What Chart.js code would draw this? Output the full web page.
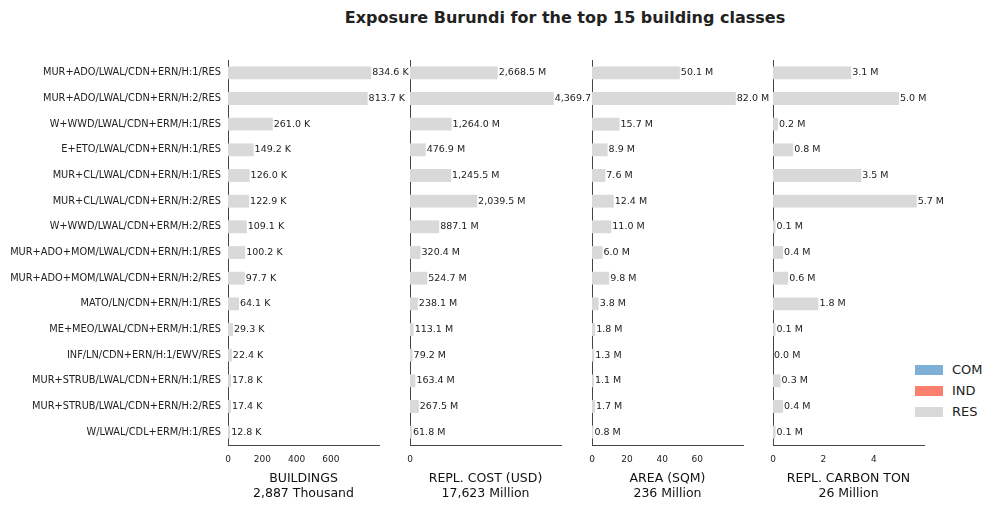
<!DOCTYPE html>
<html><head><meta charset="utf-8">
<script src="https://cdn.jsdelivr.net/npm/chart.js@4"></script>
<style>
body{margin:0;width:1002px;height:510px;background:#fff;font-family:"DejaVu Sans",sans-serif;position:relative;overflow:hidden}
canvas{position:absolute;top:0}
#title{position:absolute;top:8px;left:0;width:1130px;text-align:center;font-weight:bold;font-size:16px;color:#222}
.leg{position:absolute;left:915px;font-size:13px;color:#222}
.leg span{display:inline-block;width:28px;height:10px;margin-right:9px;vertical-align:-1px}
</style></head><body>
<div id="title">Exposure Burundi for the top 15 building classes</div>
<div class="leg" style="top:362px"><span style="background:#7eb0d5"></span>COM</div>
<div class="leg" style="top:383px"><span style="background:#fa7f6f"></span>IND</div>
<div class="leg" style="top:404px"><span style="background:#d9d9d9"></span>RES</div>
<canvas id="c1"></canvas><canvas id="c2"></canvas><canvas id="c3"></canvas><canvas id="c4"></canvas>
<script>
const classes = ["MUR+ADO/LWAL/CDN+ERN/H:1/RES","MUR+ADO/LWAL/CDN+ERN/H:2/RES","W+WWD/LWAL/CDN+ERM/H:1/RES","E+ETO/LWAL/CDN+ERN/H:1/RES","MUR+CL/LWAL/CDN+ERN/H:1/RES","MUR+CL/LWAL/CDN+ERN/H:2/RES","W+WWD/LWAL/CDN+ERM/H:2/RES","MUR+ADO+MOM/LWAL/CDN+ERN/H:1/RES","MUR+ADO+MOM/LWAL/CDN+ERN/H:2/RES","MATO/LN/CDN+ERN/H:1/RES","ME+MEO/LWAL/CDN+ERM/H:1/RES","INF/LN/CDN+ERN/H:1/EWV/RES","MUR+STRUB/LWAL/CDN+ERN/H:1/RES","MUR+STRUB/LWAL/CDN+ERN/H:2/RES","W/LWAL/CDL+ERM/H:1/RES"];
const buildings = [834.6,813.7,261.0,149.2,126.0,122.9,109.1,100.2,97.7,64.1,29.3,22.4,17.8,17.4,12.8];
const replCost = [2668.5,4369.7,1264.0,476.9,1245.5,2039.5,887.1,320.4,524.7,238.1,113.1,79.2,163.4,267.5,61.8];
const area = [50.1,82.0,15.7,8.9,7.6,12.4,11.0,6.0,9.8,3.8,1.8,1.3,1.1,1.7,0.8];
const carbon = [3.1,5.0,0.2,0.8,3.5,5.7,0.1,0.4,0.6,1.8,0.1,0.0,0.3,0.4,0.1];

const panels = [
  {id:"c1", left:0, plotLeft:228, data:buildings, max:880, step:200, unit:" K", title:["BUILDINGS","2,887 Thousand"], labels:true},
  {id:"c2", left:400, plotLeft:410, data:replCost, max:4590, step:1000, unit:" M", title:["REPL. COST (USD)","17,623 Million"]},
  {id:"c3", left:582, plotLeft:592, data:area, max:86.1, step:20, unit:" M", title:["AREA (SQM)","236 Million"]},
  {id:"c4", left:763, plotLeft:773, data:carbon, max:5.99, step:2, unit:" M", title:["REPL. CARBON TON","26 Million"]}
];

const valueLabels = {
  id: "valueLabels",
  afterDatasetsDraw(chart, args, opts) {
    const ctx = chart.ctx;
    ctx.save();
    ctx.font = "9.5px 'DejaVu Sans'";
    ctx.fillStyle = "#222";
    ctx.textBaseline = "middle";
    chart.getDatasetMeta(0).data.forEach((bar, i) => {
      const v = chart.data.datasets[0].data[i];
      const txt = v.toLocaleString("en-US", {minimumFractionDigits:1, maximumFractionDigits:1}) + opts.unit;
      ctx.fillText(txt, bar.x + 1, bar.y);
    });
    ctx.restore();
  }
};

panels.forEach(p => {
  const el = document.getElementById(p.id);
  const w = p.plotLeft - p.left + 151 + 90;
  el.style.left = p.left + "px";
  el.width = w; el.height = 510;
  el.style.width = w + "px"; el.style.height = "510px";
  const yw = p.plotLeft - p.left;
  new Chart(el, {
    type: "bar",
    data: {labels: classes, datasets: [{data: p.data, backgroundColor: "#d9d9d9", categoryPercentage: 1, barPercentage: 0.5}]},
    plugins: [valueLabels],
    options: {
      indexAxis: "y", responsive: false, animation: false,
      layout: {padding: {top: 60, right: 90, left: 0, bottom: 0}},
      plugins: {legend: {display: false}, tooltip: {enabled: false}, valueLabels: {unit: p.unit}},
      scales: {
        x: {
          min: 0, max: p.max,
          afterFit: s => { s.height = 65; },
          afterBuildTicks: s => { s.ticks = s.ticks.filter(t => Math.abs(t.value / p.step - Math.round(t.value / p.step)) < 1e-6); },
          grid: {display: false, drawTicks: true, tickLength: 4, color: "#444"},
          border: {display: true, color: "#444"},
          ticks: {stepSize: p.step, color: "#222", font: {size: 9, family: "DejaVu Sans"}, padding: 5, maxRotation: 0},
          title: {display: true, text: p.title, color: "#111", font: {size: 12.5, family: "DejaVu Sans"}, padding: {top: 2, bottom: 9}}
        },
        y: {
          afterFit: s => { s.width = yw; },
          grid: {display: false, drawTicks: true, tickLength: 4, color: "#444"},
          border: {display: true, color: "#444"},
          ticks: {display: !!p.labels, color: "#222", font: {size: 9.8, family: "DejaVu Sans"}, padding: 3, autoSkip: false}
        }
      }
    }
  });
});
</script>
</body></html>
